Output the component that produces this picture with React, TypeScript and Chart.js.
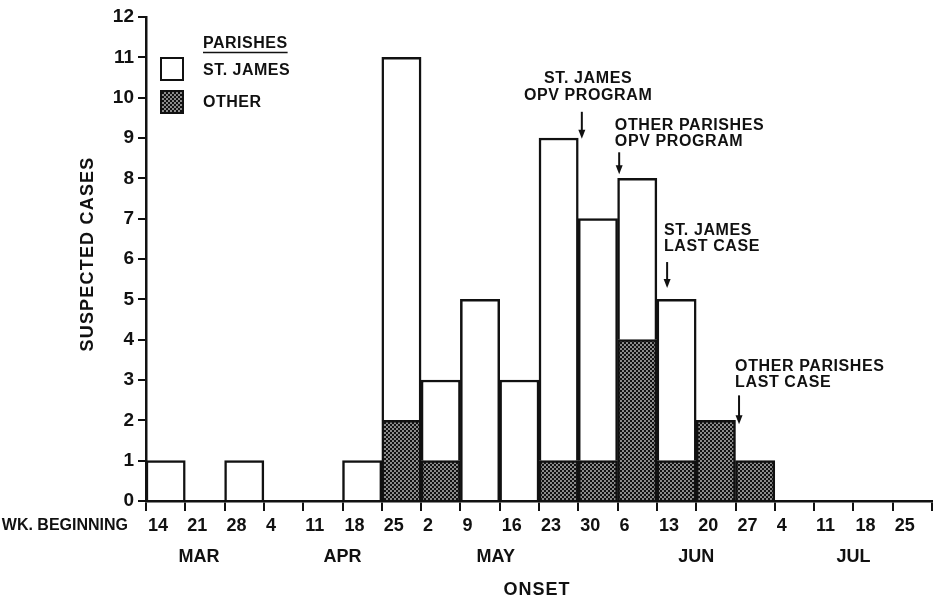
import React, { useEffect, useRef } from "react";
import { Chart, registerables } from "chart.js";

Chart.register(...registerables);

// ---- data ----
const weekLabels = ["14", "21", "28", "4", "11", "18", "25", "2", "9", "16", "23", "30", "6", "13", "20", "27", "4", "11", "18", "25"];
const stJamesCases = [1, 0, 1, 0, 0, 1, 9, 2, 5, 3, 8, 6, 4, 4, 0, 0, 0, 0, 0, 0];
const otherCases = [0, 0, 0, 0, 0, 0, 2, 1, 0, 0, 1, 1, 4, 1, 2, 1, 0, 0, 0, 0];
const monthLabels = ["MAR", "APR", "MAY", "JUN", "JUL"];
const monthWeekPos = [1.35, 5.0, 8.9, 14.0, 18.0];
const seriesNames = ["ST. JAMES", "OTHER"];
const legendTitle = "PARISHES";
const yTitle = "SUSPECTED CASES";
const xTitle = "ONSET";
const xPrefix = "WK. BEGINNING";

const annotationTexts = [
  ["ST. JAMES", "OPV PROGRAM"],
  ["OTHER PARISHES", "OPV PROGRAM"],
  ["ST. JAMES", "LAST CASE"],
  ["OTHER PARISHES", "LAST CASE"],
];
const annotationArrowWeek = [11.09, 12.04, 13.26, 15.09];
const annotationTipValue = [8.98, 8.1, 5.28, 1.9];

// ---- layout / style (not data) ----
const annotationLayout = [
  { arrowLen: 27, textGap: 16, lineGap: 17, textWeek: 11.25, align: "center" as CanvasTextAlign },
  { arrowLen: 22, textGap: 11, lineGap: 16, textWeek: 11.93, align: "left" as CanvasTextAlign },
  { arrowLen: 26, textGap: 15, lineGap: 16, textWeek: 13.18, align: "left" as CanvasTextAlign },
  { arrowLen: 29, textGap: 13, lineGap: 16, textWeek: 14.99, align: "left" as CanvasTextAlign },
];

const FONT = '"Liberation Sans", Arial, sans-serif';
const INK = "#111";

function makeHatch(): CanvasPattern | string {
  const c = document.createElement("canvas");
  c.width = 4;
  c.height = 4;
  const g = c.getContext("2d");
  if (!g) return "#333";
  g.fillStyle = "#111";
  g.fillRect(0, 0, 4, 4);
  g.fillStyle = "#fff";
  g.beginPath();
  g.ellipse(1, 1, 0.7, 0.95, 0, 0, Math.PI * 2);
  g.fill();
  g.beginPath();
  g.ellipse(3, 3, 0.7, 0.95, 0, 0, Math.PI * 2);
  g.fill();
  const p = g.createPattern(c, "repeat");
  return p || "#333";
}

export default function App() {
  const ref = useRef<HTMLCanvasElement | null>(null);

  useEffect(() => {
    document.body.style.margin = "0";
    const canvas = ref.current;
    if (!canvas) return;
    const hatch = makeHatch();

    const decor = {
      id: "decor",
      afterDraw(chart: any) {
        const ctx: CanvasRenderingContext2D = chart.ctx;
        const xs = chart.scales.x;
        const ys = chart.scales.y;
        const area = chart.chartArea;
        ctx.save();
        ctx.fillStyle = INK;
        ctx.strokeStyle = INK;
        ctx.textBaseline = "middle";

        // legend
        const lx = area.left + 15;
        ctx.font = `bold 16px ${FONT}`;
        (ctx as any).letterSpacing = "0.5px";
        ctx.textAlign = "left";
        ctx.fillText(legendTitle, lx + 42, 44);
        const tw = ctx.measureText(legendTitle).width;
        ctx.lineWidth = 1.5;
        ctx.beginPath();
        ctx.moveTo(lx + 42, 52.5);
        ctx.lineTo(lx + 42 + tw, 52.5);
        ctx.stroke();
        ctx.lineWidth = 2;
        ctx.fillStyle = "#fff";
        ctx.fillRect(lx, 58, 22, 22);
        ctx.strokeRect(lx, 58, 22, 22);
        ctx.fillStyle = hatch as any;
        ctx.fillRect(lx, 91, 22, 22);
        ctx.strokeRect(lx, 91, 22, 22);
        ctx.fillStyle = INK;
        ctx.fillText(seriesNames[0], lx + 42, 71);
        ctx.fillText(seriesNames[1], lx + 42, 103);

        // annotations
        annotationTexts.forEach((lines, i) => {
          const lay = annotationLayout[i];
          const ax = xs.getPixelForValue(annotationArrowWeek[i]);
          const tipY = ys.getPixelForValue(annotationTipValue[i]);
          const topY = tipY - lay.arrowLen;
          ctx.lineWidth = 2;
          ctx.beginPath();
          ctx.moveTo(ax, topY);
          ctx.lineTo(ax, tipY - 6);
          ctx.stroke();
          ctx.beginPath();
          ctx.moveTo(ax - 3.5, tipY - 9);
          ctx.lineTo(ax + 3.5, tipY - 9);
          ctx.lineTo(ax, tipY);
          ctx.closePath();
          ctx.fill();
          const tx = xs.getPixelForValue(lay.textWeek);
          ctx.textAlign = lay.align;
          ctx.font = `bold 16px ${FONT}`;
          (ctx as any).letterSpacing = "0.6px";
          const lastY = topY - lay.textGap;
          lines.forEach((ln, j) => {
            const yy = lastY - (lines.length - 1 - j) * lay.lineGap;
            ctx.fillText(ln, tx, yy);
          });
        });

        // x-axis extras
        (ctx as any).letterSpacing = "0px";
        ctx.font = `bold 16px ${FONT}`;
        ctx.textAlign = "right";
        ctx.fillText(xPrefix, area.left - 18, 526);
        ctx.font = `bold 18px ${FONT}`;
        ctx.textAlign = "center";
        monthLabels.forEach((m, i) => {
          ctx.fillText(m, xs.getPixelForValue(monthWeekPos[i]), 557);
        });
        (ctx as any).letterSpacing = "1px";
        ctx.fillText(xTitle, xs.getPixelForValue(9.95), 590);

        // y title
        ctx.translate(area.left - 58, (area.top + area.bottom) / 2 - 5);
        ctx.rotate(-Math.PI / 2);
        ctx.font = `bold 18px ${FONT}`;
        (ctx as any).letterSpacing = "1.2px";
        ctx.textAlign = "center";
        ctx.fillText(yTitle, 0, 0);
        ctx.restore();
      },
    };

    const chart = new Chart(canvas, {
      type: "bar",
      data: {
        datasets: [
          {
            label: seriesNames[1],
            data: otherCases.map((v, i) => ({ x: i + 0.5, y: v })),
            backgroundColor: hatch as any,
            borderColor: INK,
            borderWidth: 2.5,
            borderSkipped: "start",
            barPercentage: 1,
            categoryPercentage: 1,
          },
          {
            label: seriesNames[0],
            data: stJamesCases.map((v, i) => ({ x: i + 0.5, y: v })),
            backgroundColor: "#fff",
            borderColor: INK,
            borderWidth: 2.5,
            borderSkipped: "start",
            barPercentage: 1,
            categoryPercentage: 1,
          },
        ],
      },
      options: {
        animation: false,
        responsive: false,
        layout: { padding: { top: 17, right: 7, left: 0, bottom: 0 } },
        plugins: { legend: { display: false }, tooltip: { enabled: false } },
        scales: {
          x: {
            type: "linear",
            stacked: true,
            offset: false,
            min: 0,
            max: 20,
            afterFit: (s: any) => {
              s.height = 97;
            },
            ticks: {
              stepSize: 1,
              autoSkip: false,
              maxRotation: 0,
              align: "start",
              labelOffset: 2,
              padding: 4,
              color: INK,
              font: { family: FONT, size: 18, weight: "bold" },
              callback: (v: any) => weekLabels[Number(v)] ?? "",
            },
            grid: { offset: false, drawOnChartArea: false, drawTicks: true, tickLength: 10, color: INK, lineWidth: 2 },
            border: { display: true, color: INK, width: 2.5 },
          },
          y: {
            stacked: true,
            min: 0,
            max: 12,
            afterFit: (s: any) => {
              s.width = 146;
            },
            ticks: {
              stepSize: 1,
              padding: 4,
              color: INK,
              font: { family: FONT, size: 19, weight: "bold" },
            },
            grid: { drawOnChartArea: false, drawTicks: true, tickLength: 8, color: INK, lineWidth: 2 },
            border: { display: true, color: INK, width: 2.5 },
          },
        },
      },
      plugins: [decor],
    } as any);

    return () => chart.destroy();
  }, []);

  return (
    <div style={{ width: 939, height: 598, background: "#fff" }}>
      <canvas ref={ref} width={939} height={598} style={{ display: "block" }} />
    </div>
  );
}
